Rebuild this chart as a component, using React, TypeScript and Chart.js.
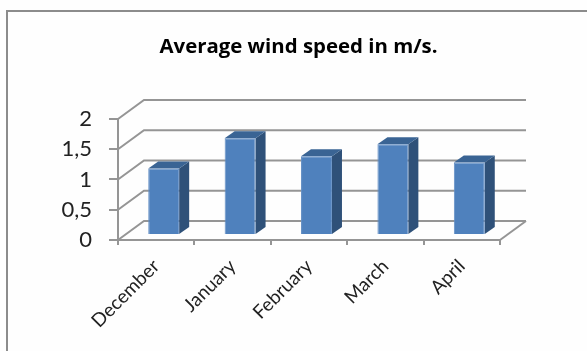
import { useEffect, useRef } from "react";
import { Chart, registerables } from "chart.js";

Chart.register(...registerables);

const months = ["December", "January", "February", "March", "April"];
const windSpeed = [1.1, 1.6, 1.3, 1.5, 1.2];
const chartTitle = "Average wind speed in m/s.";
const fontFamily = "Lato, 'Open Sans', sans-serif";

const lineGray = "#959595";
const faceBlue = "#4f81bd";
const faceEdge = "#648fc5";
const sideBlue = "#2f5179";
const topBlue = "#3a6494";

// Depth of the box behind the front axis plane, and of each bar.
const wallDepth = { x: 26, y: -19 };
const barShift = { x: 7.5, y: -5 };
const barDepth = { x: 10, y: -7 };

const polygon = (ctx: CanvasRenderingContext2D, pts: number[][], fill: string) => {
  ctx.beginPath();
  pts.forEach(([x, y], i) => (i ? ctx.lineTo(x, y) : ctx.moveTo(x, y)));
  ctx.closePath();
  ctx.fillStyle = fill;
  ctx.fill();
};

const framePlugin = {
  id: "frame",
  // The heading is centred over the frame's inner span rather than the plot.
  afterLayout(chart: any) {
    chart.titleBlock.left = 97;
    chart.titleBlock.right = 500;
  },
  beforeDraw(chart: any) {
    const { ctx, width, height } = chart;
    ctx.save();
    ctx.fillStyle = "#fefefe";
    ctx.fillRect(0, 0, width, height);
    ctx.strokeStyle = "#8c8c8c";
    ctx.lineWidth = 2;
    ctx.beginPath();
    ctx.moveTo(7, height);
    ctx.lineTo(7, 11);
    ctx.lineTo(width, 11);
    ctx.stroke();
    ctx.restore();
  },
};

// Side wall, back wall gridlines and floor of the 3-D plot box.
const wallsPlugin = {
  id: "walls",
  beforeDatasetsDraw(chart: any) {
    const { ctx, scales } = chart;
    const { left, right } = chart.chartArea;
    ctx.save();
    ctx.strokeStyle = lineGray;
    ctx.lineWidth = 2;
    scales.y.ticks.forEach((t: any) => {
      const y = scales.y.getPixelForValue(t.value);
      ctx.beginPath();
      ctx.moveTo(left, y);
      ctx.lineTo(left + wallDepth.x, y + wallDepth.y);
      ctx.lineTo(right + wallDepth.x, y + wallDepth.y);
      ctx.stroke();
    });
    const y0 = scales.y.getPixelForValue(0);
    ctx.beginPath();
    ctx.moveTo(right, y0);
    ctx.lineTo(right + wallDepth.x, y0 + wallDepth.y);
    ctx.stroke();
    ctx.restore();
  },
};

// Native bars are the front faces; side and top faces are extruded from them.
const extrudePlugin = {
  id: "extrude",
  beforeDatasetDraw(chart: any, args: any) {
    const { ctx } = chart;
    ctx.save();
    ctx.translate(barShift.x, barShift.y);
    args.meta.data.forEach((bar: any) => {
      const l = bar.x - bar.width / 2;
      const r = bar.x + bar.width / 2;
      const { y, base } = bar;
      polygon(ctx, [[r, y], [r + barDepth.x, y + barDepth.y], [r + barDepth.x, base + barDepth.y], [r, base]], sideBlue);
      polygon(ctx, [[l, y], [l + barDepth.x, y + barDepth.y], [r + barDepth.x, y + barDepth.y], [r, y]], topBlue);
    });
  },
  afterDatasetDraw(chart: any) {
    chart.ctx.restore();
  },
};

export default function App() {
  const canvasRef = useRef<HTMLCanvasElement>(null);

  useEffect(() => {
    const chart = new Chart(canvasRef.current!, {
      type: "bar",
      data: {
        labels: months,
        datasets: [
          {
            data: windSpeed,
            backgroundColor: faceBlue,
            borderColor: faceEdge,
            borderWidth: 1,
            barPercentage: 0.405,
            categoryPercentage: 1,
            clip: false,
          },
        ],
      },
      options: {
        responsive: false,
        animation: false,
        layout: { padding: { left: 0, right: 87, top: 35, bottom: 0 } },
        plugins: {
          legend: { display: false },
          tooltip: { enabled: false },
          title: {
            display: true,
            text: chartTitle,
            color: "#000",
            font: { family: "'Open Sans', Lato, sans-serif", size: 20.4, weight: "bold", lineHeight: 1.2 },
            padding: { top: 0, bottom: 59.5 },
          },
        },
        scales: {
          x: {
            afterFit: (s: any) => {
              s.height = 111;
            },
            border: { color: lineGray, width: 2 },
            grid: { drawOnChartArea: false, color: lineGray, lineWidth: 2, tickLength: 5 },
            ticks: {
              color: "#222",
              font: { family: fontFamily, size: 19 },
              minRotation: 45,
              maxRotation: 45,
              padding: 10,
            },
          },
          y: {
            min: 0,
            max: 2,
            afterFit: (s: any) => {
              s.width = 118;
            },
            border: { color: lineGray, width: 2 },
            grid: { drawOnChartArea: false, color: lineGray, lineWidth: 2, tickLength: 9 },
            ticks: {
              stepSize: 0.5,
              color: "#222",
              font: { family: fontFamily, size: 22 },
              padding: 17,
              callback: (v: any) => String(v).replace(".", ","),
            },
          },
        },
      },
      plugins: [framePlugin, wallsPlugin, extrudePlugin],
    } as any);
    return () => chart.destroy();
  }, []);

  return (
    <div style={{ position: "fixed", left: 0, top: 0 }}>
      <canvas ref={canvasRef} width={587} height={351} style={{ display: "block" }} />
    </div>
  );
}
